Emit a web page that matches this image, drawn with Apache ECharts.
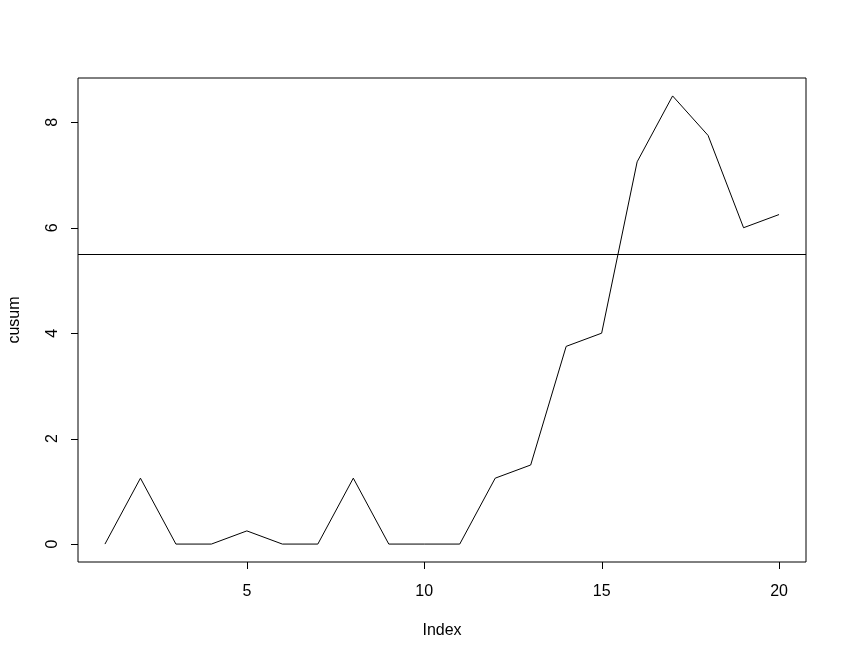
<!DOCTYPE html>
<html>
<head>
<meta charset="utf-8">
<script src="https://cdn.jsdelivr.net/npm/echarts@6/dist/echarts.min.js"></script>
<style>
html,body{margin:0;padding:0;background:#fff;}
#chart{width:847px;height:659px;}
</style>
</head>
<body>
<div id="chart"></div>
<script>
var indexValues = [1,2,3,4,5,6,7,8,9,10,11,12,13,14,15,16,17,18,19,20];
var cusumValues = [0,1.25,0,0,0.25,0,0,1.25,0,0,0,1.25,1.5,3.75,4,7.25,8.5,7.75,6,6.25];
var thresholdValue = 5.5;
var xTicks = [5,10,15,20];
var yTicks = [0,2,4,6,8];

var X_MIN = 0.24, X_MAX = 20.76, Y_MIN = -0.34, Y_MAX = 8.84;
var TICK_LEN = 7;
var font = 'Liberation Sans, Arial, sans-serif';

function tickSeries(values, horizontal) {
  return {
    type:'custom',
    silent:true,
    clip:false,
    z:5,
    data: values.map(function(v){ return horizontal ? [v, Y_MIN] : [X_MIN, v]; }),
    encode:{x:0, y:1},
    renderItem:function(params, api){
      var p = api.coord([api.value(0), api.value(1)]);
      var shape;
      if (horizontal) {
        var x = Math.round(p[0]) + 0.5, y = Math.round(p[1]);
        shape = {x1:x, y1:y, x2:x, y2:y + TICK_LEN};
      } else {
        var yy = Math.round(p[1]) + 0.5, xx = Math.round(p[0]);
        shape = {x1:xx, y1:yy, x2:xx - TICK_LEN, y2:yy};
      }
      return {type:'line', shape:shape, style:{stroke:'#000', lineWidth:1}};
    }
  };
}

var chart = echarts.init(document.getElementById('chart'), null, {renderer:'canvas'});
chart.setOption({
  animation:false,
  backgroundColor:'#fff',
  grid:{left:78,right:41,top:78,bottom:97,show:true,borderColor:'#000',borderWidth:1,backgroundColor:'transparent',outerBoundsMode:'none',containLabel:false},
  xAxis:{
    type:'value', min:X_MIN, max:X_MAX,
    name:'Index', nameLocation:'middle', nameGap:61,
    nameTextStyle:{color:'#000',fontSize:16,fontFamily:font},
    axisLine:{show:false,onZero:false},
    splitLine:{show:false},
    axisTick:{show:false},
    axisLabel:{color:'#000',fontSize:16,fontFamily:font,margin:22,customValues:xTicks}
  },
  yAxis:{
    type:'value', min:Y_MIN, max:Y_MAX,
    name:'cusum', nameLocation:'middle', nameGap:55, nameRotate:90,
    nameTextStyle:{color:'#000',fontSize:16,fontFamily:font},
    axisLine:{show:false,onZero:false},
    splitLine:{show:false},
    axisTick:{show:false},
    axisLabel:{color:'#000',fontSize:16,fontFamily:font,margin:17,rotate:90,customValues:yTicks}
  },
  series:[{
    type:'line',
    data:indexValues.map(function(x,i){return [x,cusumValues[i]];}),
    symbol:'none',
    lineStyle:{color:'#000',width:1},
    markLine:{
      silent:true, symbol:'none', label:{show:false},
      lineStyle:{color:'#000',width:1,type:'solid'},
      data:[{yAxis:thresholdValue}]
    }
  }, tickSeries(xTicks, true), tickSeries(yTicks, false)]
});
</script>
</body>
</html>
